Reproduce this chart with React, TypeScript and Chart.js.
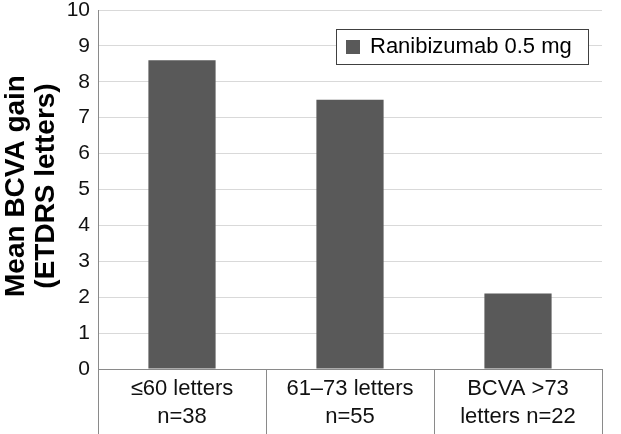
import React, { useEffect, useRef } from "react";
import { Chart, registerables } from "chart.js";

Chart.register(...registerables);

const categories: string[][] = [
  ["≤60 letters", "n=38"],
  ["61–73 letters", "n=55"],
  ["BCVA >73", "letters n=22"],
];
const seriesName = "Ranibizumab 0.5 mg";
const seriesValues: number[] = [8.6, 7.5, 2.1];
const yTitleLines: string[] = ["Mean BCVA gain", "(ETDRS letters)"];
const yMin = 0;
const yMax = 10;
const yStep = 1;

const FONT = "Arial, 'Liberation Sans', sans-serif";
const BAR_COLOR = "#595959";

const decorPlugin = {
  id: "decor",
  afterDraw(chart: any) {
    const { ctx, chartArea, height } = chart;
    ctx.save();
    ctx.strokeStyle = "#8a8a8a";
    ctx.lineWidth = 1;
    const n = categories.length;
    const step = (chartArea.right - chartArea.left) / n;
    for (let i = 0; i <= n; i++) {
      const px = Math.round(chartArea.left + i * step) + 0.5;
      ctx.beginPath();
      ctx.moveTo(px, i === 0 ? chartArea.top : chartArea.bottom);
      ctx.lineTo(px, height);
      ctx.stroke();
    }
    ctx.fillStyle = "#000";
    ctx.font = `bold 28px ${FONT}`;
    ctx.textAlign = "center";
    ctx.textBaseline = "middle";
    const cy = 186;
    ctx.translate(0, cy);
    ctx.rotate(-Math.PI / 2);
    ctx.fillText(yTitleLines[0], 0, 16);
    ctx.fillText(yTitleLines[1], 0, 46);
    ctx.restore();

    ctx.save();
    const lx = 336.5, ly = 29.5, lw = 252, lh = 35;
    ctx.fillStyle = "#fff";
    ctx.fillRect(lx, ly, lw, lh);
    ctx.strokeStyle = "#404040";
    ctx.lineWidth = 1;
    ctx.strokeRect(lx, ly, lw, lh);
    ctx.fillStyle = BAR_COLOR;
    ctx.fillRect(346, 40, 14, 14);
    ctx.fillStyle = "#000";
    ctx.font = `22px ${FONT}`;
    ctx.textAlign = "left";
    ctx.textBaseline = "middle";
    ctx.fillText(seriesName, 370, 47);
    ctx.restore();
  },
};

export default function App() {
  const ref = useRef<HTMLCanvasElement | null>(null);
  useEffect(() => {
    if (!ref.current) return;
    const chart = new Chart(ref.current, {
      type: "bar",
      data: {
        labels: categories,
        datasets: [
          {
            label: seriesName,
            data: seriesValues,
            backgroundColor: BAR_COLOR,
            borderWidth: 0,
            categoryPercentage: 0.4,
            barPercentage: 1.0,
          },
        ],
      },
      options: {
        animation: false,
        responsive: false,
        layout: { padding: { top: 10, right: 19, left: 0, bottom: 0 } },
        plugins: {
          legend: { display: false },
          tooltip: { enabled: false },
        },
        scales: {
          x: {
            grid: { display: false, drawTicks: false },
            border: { display: true, color: "#8a8a8a", width: 1 },
            ticks: {
              color: "#111",
              font: { family: FONT, size: 22, lineHeight: 1.27 },
              padding: 6,
              maxRotation: 0,
              autoSkip: false,
            },
            afterFit(scale: any) {
              scale.height = 65;
              scale.paddingLeft = 0;
              scale.paddingRight = 0;
            },
          },
          y: {
            min: yMin,
            max: yMax,
            grid: { color: "#d9d9d9", drawTicks: false },
            border: { display: true, color: "#8a8a8a", width: 1 },
            ticks: {
              stepSize: yStep,
              color: "#111",
              font: { family: FONT, size: 21 },
              padding: 8,
            },
            afterFit(scale: any) {
              scale.width = 98;
              scale.paddingTop = 0;
              scale.paddingBottom = 0;
            },
          },
        },
      },
      plugins: [decorPlugin],
    });
    return () => chart.destroy();
  }, []);
  return (
    <div style={{ position: "fixed", left: 0, top: 0, width: 621, height: 434, background: "#fff" }}>
      <canvas ref={ref} width={621} height={434} style={{ display: "block" }} />
    </div>
  );
}
